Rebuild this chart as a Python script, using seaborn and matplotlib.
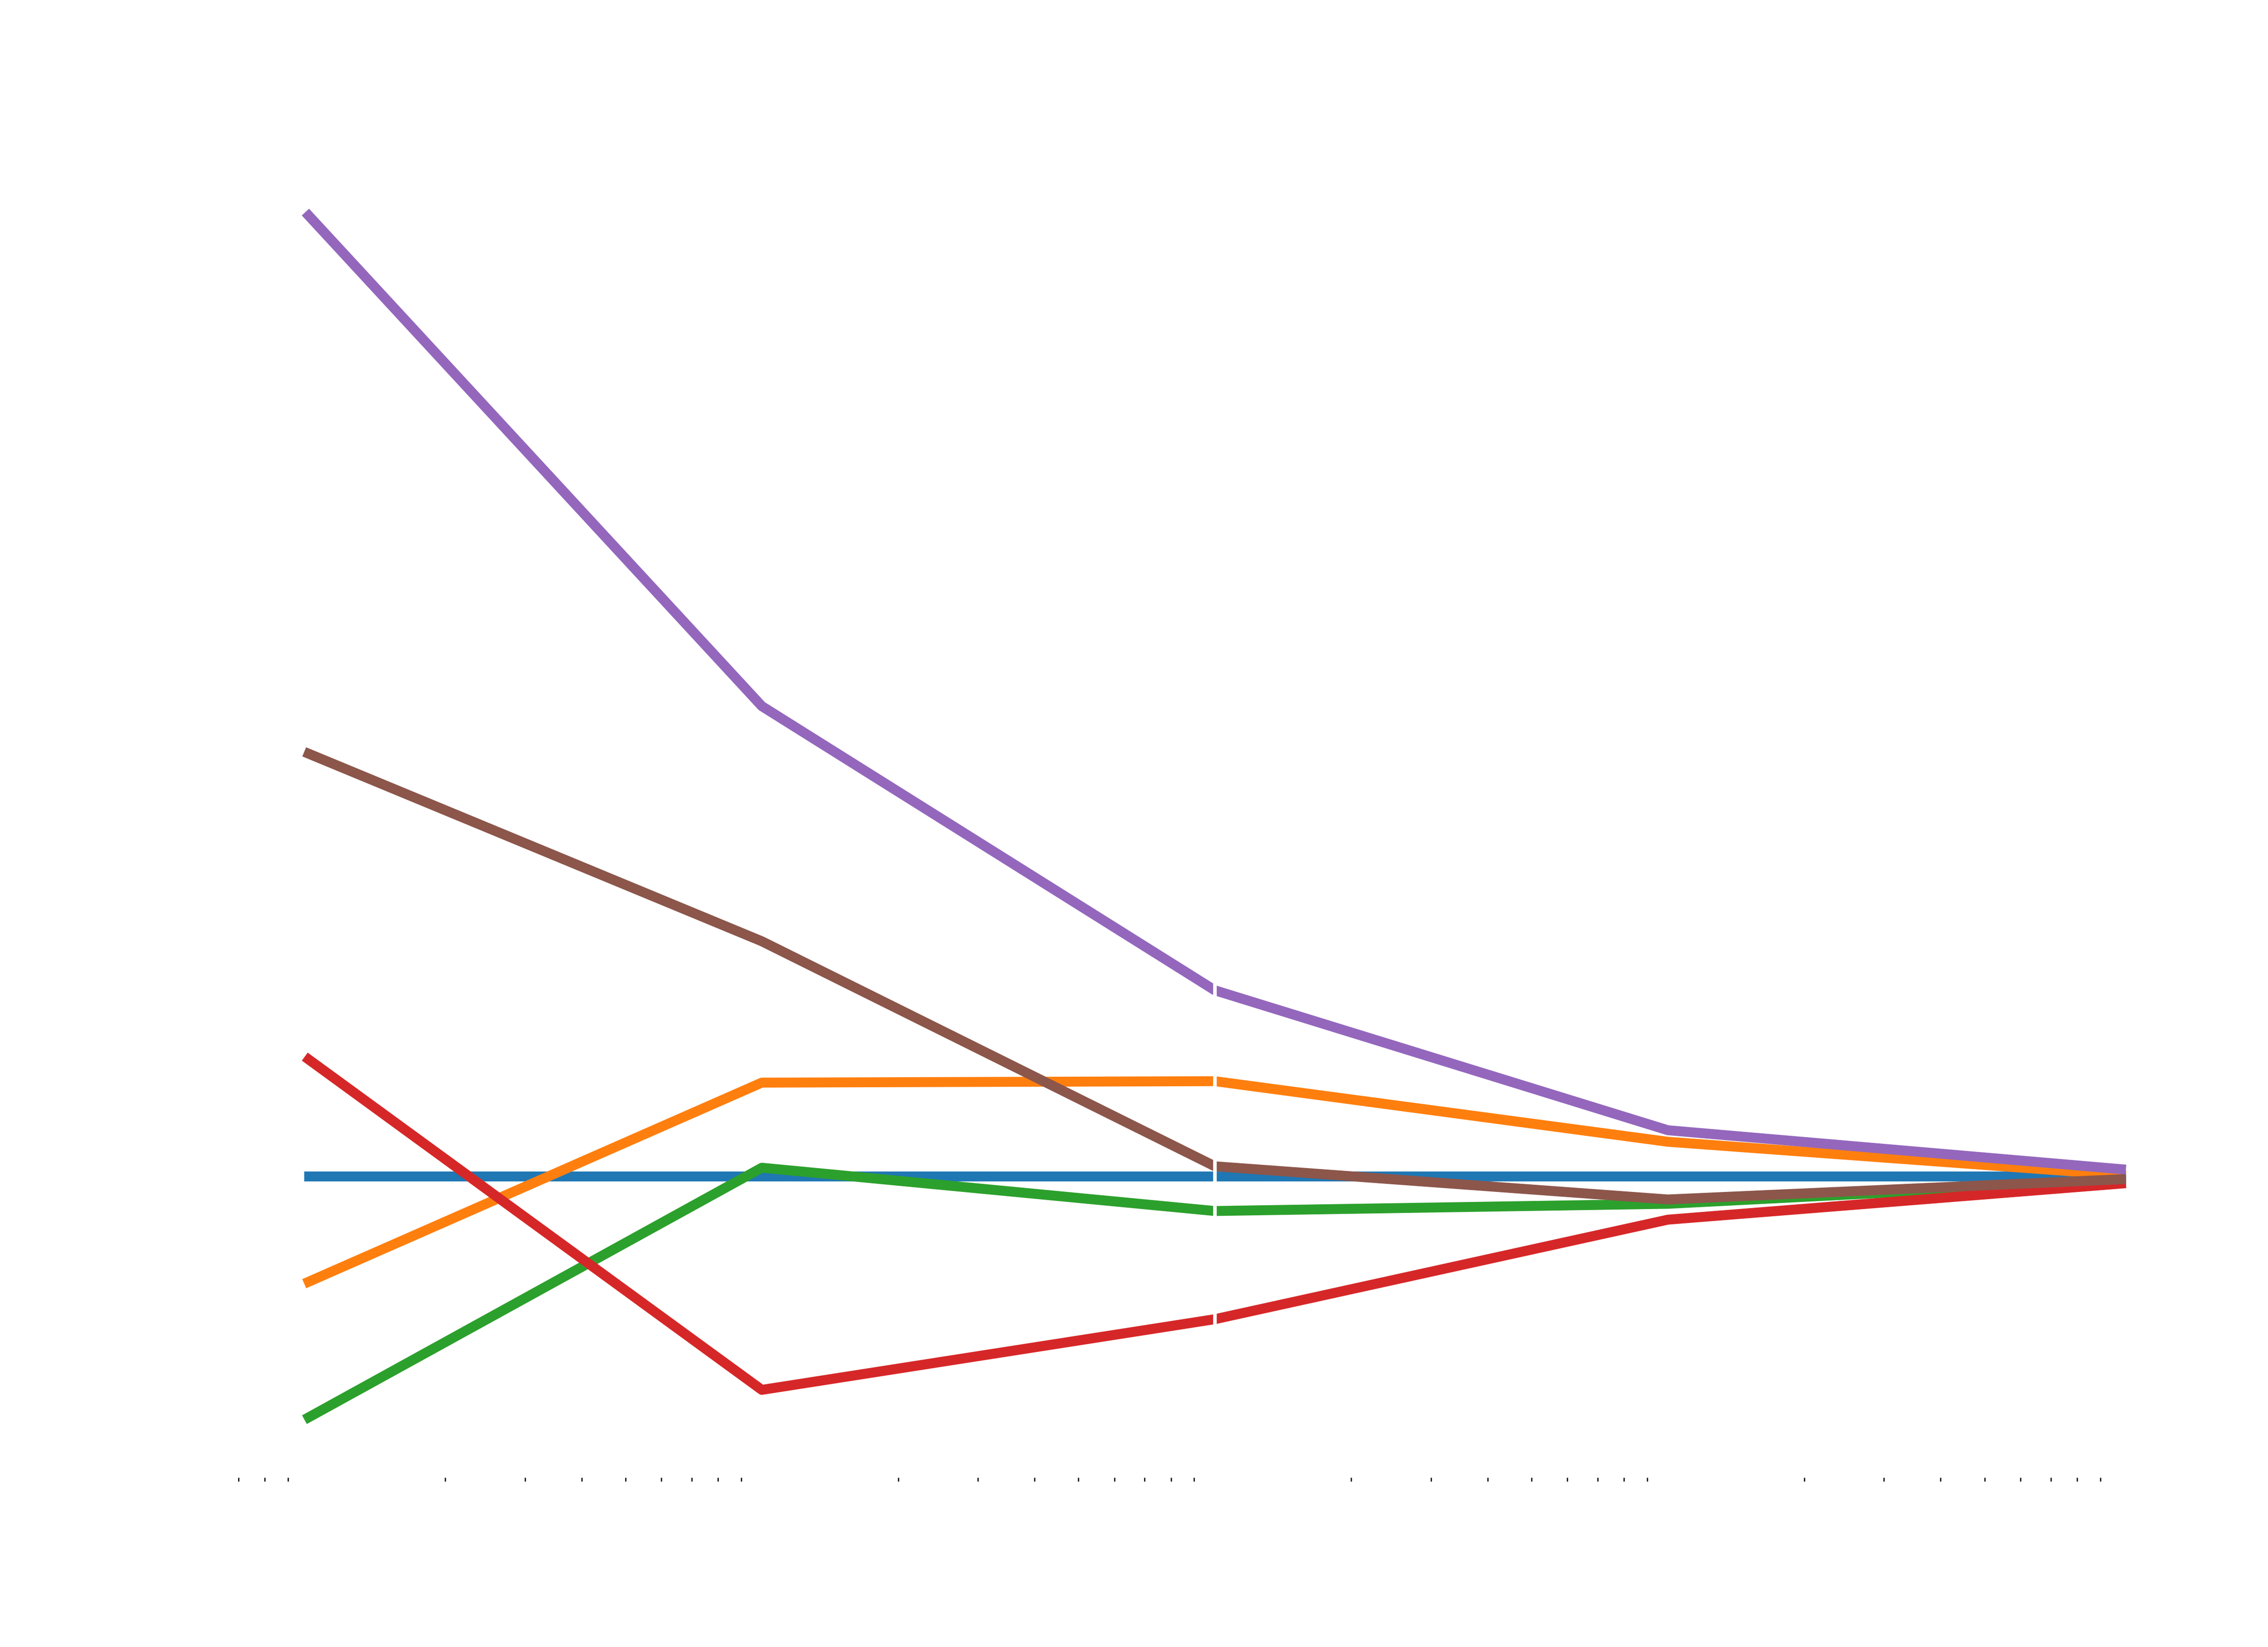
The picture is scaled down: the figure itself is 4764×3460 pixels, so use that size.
import numpy as np
import pandas as pd
import matplotlib
matplotlib.use("Agg")
import matplotlib.pyplot as plt
import seaborn as sns

# x positions (log scale)
x_values = [1, 10, 100, 1000, 10000]

# series values (relative units, blue = reference)
series_names = ["A", "B", "C", "D", "E", "F"]
vals_A = [0.00, 0.00, 0.00, 0.00, 0.00]
vals_B = [-0.73, 0.65, 0.66, 0.24, 0.01]
vals_C = [-1.67, 0.06, -0.24, -0.19, -0.03]
vals_D = [0.81, -1.48, -0.99, -0.30, -0.05]
vals_E = [6.66, 3.26, 1.29, 0.32, 0.05]
vals_F = [2.93, 1.63, 0.07, -0.16, -0.02]

all_vals = [vals_A, vals_B, vals_C, vals_D, vals_E, vals_F]
rows = []
for name, vals in zip(series_names, all_vals):
    for xv, yv in zip(x_values, vals):
        rows.append({"x": xv, "y": yv, "series": name})
df = pd.DataFrame(rows)

palette = sns.color_palette("tab10", 6)

fig = plt.figure(figsize=(4764 / 300, 3460 / 300), dpi=300)
ax = fig.add_axes([0.0962, 0.1030, 0.8789, 0.8025])

sns.lineplot(data=df, x="x", y="y", hue="series", palette=palette,
             linewidth=5, legend=False, ax=ax, sort=False)
ax.set_xscale("log")
ax.axvline(100, color="white", linewidth=1.8, zorder=10)

for s in ax.spines.values():
    s.set_visible(False)
ax.tick_params(axis="both", which="major", length=0, labelbottom=False, labelleft=False)
ax.tick_params(axis="x", which="minor", length=2, width=0.6, color="black")
ax.tick_params(axis="y", which="minor", length=0)
ax.set_xlabel("")
ax.set_ylabel("")

fig.savefig("out.png", dpi=300, facecolor="white")
